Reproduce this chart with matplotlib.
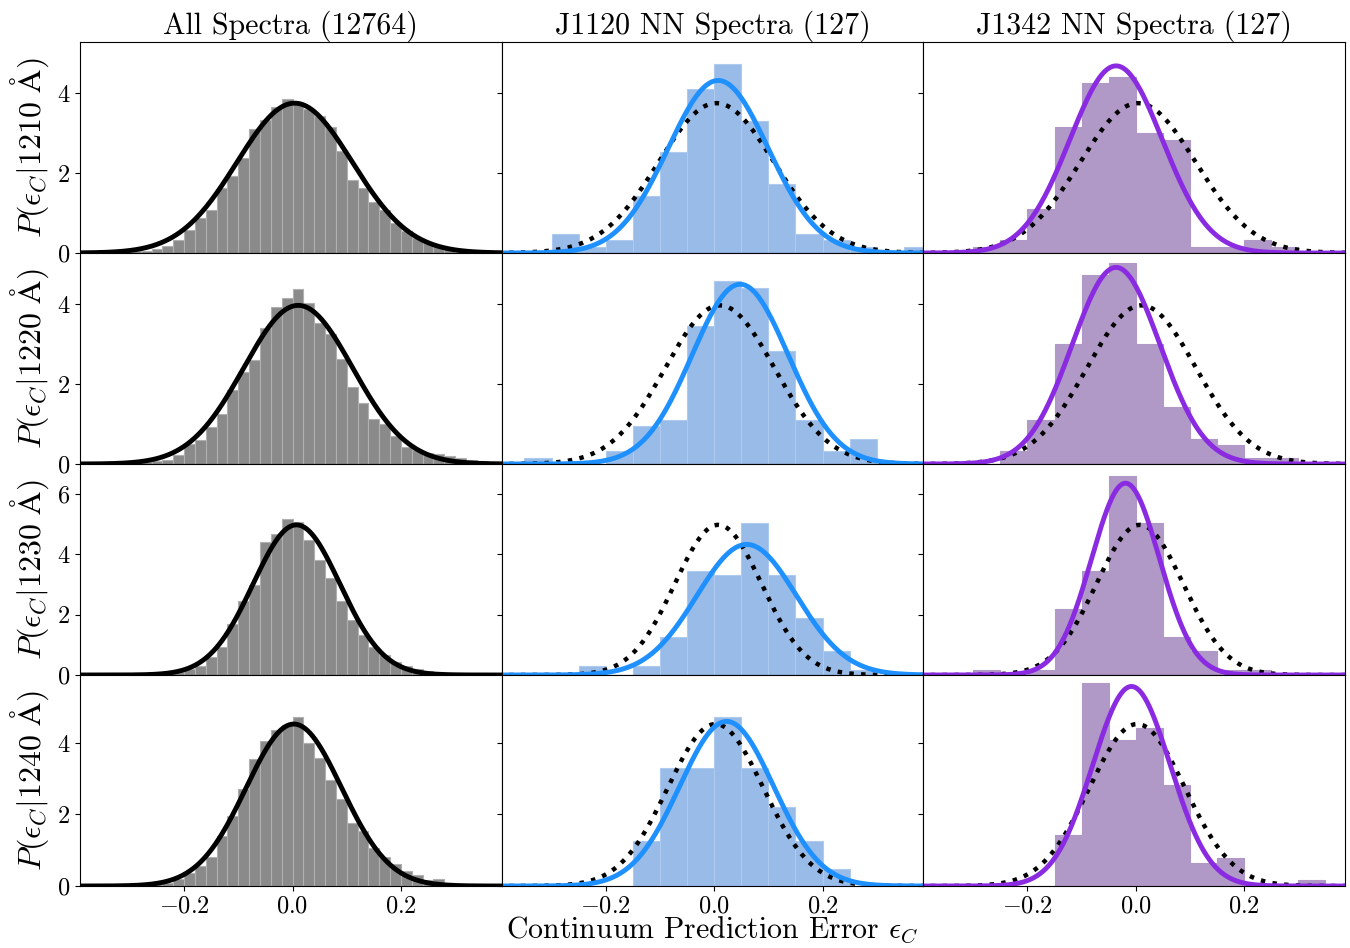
import numpy as np
import matplotlib
matplotlib.use("Agg")
import matplotlib.pyplot as plt

plt.rcParams["font.family"] = "serif"
plt.rcParams["font.serif"] = ["cmr10", "DejaVu Serif"]
plt.rcParams["mathtext.fontset"] = "cm"
plt.rcParams["axes.formatter.use_mathtext"] = True

wavelengths = [1210, 1220, 1230, 1240]
titles = ["All Spectra (12764)", "J1120 NN Spectra (127)", "J1342 NN Spectra (127)"]

# all spectra: density per 0.02 bin, left edges -0.34 ... 0.34
all_left, all_width = -0.34, 0.02
all_dens = [
    [0.02, 0.02, 0.04, 0.06, 0.10, 0.17, 0.33, 0.58, 0.88, 1.08, 1.63, 1.93, 2.38, 3.11, 3.32, 3.65, 3.85, 3.75,
     3.60, 3.43, 3.15, 2.54, 1.83, 1.63, 1.28, 1.08, 0.75, 0.54, 0.38, 0.25, 0.17, 0.12, 0.10, 0.07, 0.08],
    [0.01, 0.02, 0.03, 0.04, 0.07, 0.11, 0.23, 0.51, 0.59, 0.92, 1.25, 1.86, 2.30, 2.60, 3.40, 3.93, 4.16, 4.38,
     4.04, 3.54, 3.25, 2.63, 1.93, 1.53, 1.13, 1.00, 0.71, 0.43, 0.36, 0.28, 0.25, 0.21, 0.15, 0.11, 0.07],
    [0.00, 0.01, 0.01, 0.02, 0.03, 0.05, 0.10, 0.19, 0.31, 0.61, 0.94, 1.69, 2.47, 2.98, 4.42, 4.69, 5.16, 5.09,
     4.47, 3.83, 3.22, 2.47, 1.84, 1.33, 0.94, 0.67, 0.44, 0.29, 0.20, 0.13, 0.09, 0.05, 0.03, 0.02, 0.01],
    [0.00, 0.01, 0.02, 0.03, 0.05, 0.07, 0.19, 0.37, 0.56, 0.82, 1.40, 1.95, 2.70, 3.55, 4.05, 4.37, 4.49, 4.72,
     4.00, 3.58, 2.96, 2.43, 1.75, 1.53, 1.05, 0.81, 0.62, 0.42, 0.31, 0.16, 0.20, 0.09, 0.05, 0.03, 0.02],
]

# nearest neighbour sets: counts per 0.05 bin, left edges -0.35 ... 0.35
nn_left, nn_width, nn_total = -0.35, 0.05, 127
j1120_counts = [
    [0, 3, 1, 2, 9, 16, 26, 30, 21, 11, 3, 2, 1, 0, 1],
    [1, 0, 0, 2, 6, 7, 22, 29, 28, 18, 7, 2, 4, 0, 0],
    [0, 0, 2, 0, 2, 8, 22, 21, 32, 21, 12, 5, 1, 0, 0],
    [0, 0, 0, 0, 8, 21, 21, 30, 21, 14, 8, 3, 0, 0, 0],
]
j1342_counts = [
    [0, 1, 2, 7, 20, 27, 28, 19, 18, 1, 1, 2, 1, 0, 0],
    [0, 0, 2, 7, 19, 30, 32, 19, 9, 4, 3, 1, 1, 0, 0],
    [0, 1, 0, 1, 14, 22, 42, 32, 8, 5, 1, 1, 0, 0, 0],
    [0, 0, 0, 0, 9, 36, 26, 28, 18, 4, 5, 0, 0, 1, 0],
]

# gaussian fits (mean, sigma)
all_fit = [(0.004, 0.1064), (0.0105, 0.1005), (0.0074, 0.0801), (0.0025, 0.0881)]
j1120_fit = [(0.0074, 0.0924), (0.048, 0.0887), (0.060, 0.0921), (0.023, 0.0867)]
j1342_fit = [(-0.0364, 0.0852), (-0.0364, 0.0811), (-0.019, 0.0627), (-0.008, 0.0715)]

row_ymax = [5.28, 5.28, 7.0, 5.9]
row_yticks = [[0, 2, 4], [0, 2, 4], [0, 2, 4, 6], [0, 2, 4]]


def gauss(x, mu, sig):
    return np.exp(-0.5 * ((x - mu) / sig) ** 2) / (sig * np.sqrt(2 * np.pi))


def bars(ax, left, width, heights, color, edge):
    lefts = left + width * np.arange(len(heights))
    ax.bar(lefts, heights, width=width, align='edge', color=color, edgecolor=edge, linewidth=0.8)


fig, axes = plt.subplots(4, 3, figsize=(13.5, 9.48), dpi=100, sharex=True)
fig.subplots_adjust(left=0.0593, right=0.9963, top=0.9557, bottom=0.0654, wspace=0, hspace=0)

x = np.linspace(-0.4, 0.4, 600)
for i in range(4):
    a0, a1, a2 = axes[i]
    ref = gauss(x, *all_fit[i])

    bars(a0, all_left, all_width, all_dens[i], '#8a8a8a', '#b0b0b0')
    a0.plot(x, ref, color='k', lw=3.5)

    bars(a1, nn_left, nn_width, np.array(j1120_counts[i]) / (nn_total * nn_width), '#98bbe8', '#aecaee')
    a1.plot(x, ref, color='k', lw=3.2, ls=':')
    a1.plot(x, gauss(x, *j1120_fit[i]), color='#1e90ff', lw=3.5)

    bars(a2, nn_left, nn_width, np.array(j1342_counts[i]) / (nn_total * nn_width), '#b098c7', '#b098c7')
    a2.plot(x, ref, color='k', lw=3.2, ls=':')
    a2.plot(x, gauss(x, *j1342_fit[i]), color='#8a2be2', lw=3.5)

    for ax in axes[i]:
        ax.set_ylim(0, row_ymax[i])
        ax.set_yticks(row_yticks[i])
        ax.set_xlim(-0.392, 0.386)
        ax.tick_params(labelsize=17.5)
    a1.tick_params(labelleft=False)
    a2.tick_params(labelleft=False)
    a0.set_ylabel(r'$P(\epsilon_C|%d\ \mathrm{\AA})$' % wavelengths[i], fontsize=23, labelpad=4)

for j in range(3):
    axes[0, j].set_title(titles[j], fontsize=21.5, pad=5)
    axes[3, j].set_xticks([-0.2, 0.0, 0.2])

axes[3, 1].set_xlabel(r'Continuum Prediction Error $\epsilon_C$', fontsize=21.5, labelpad=-2)

fig.savefig('out.png', dpi=100)
